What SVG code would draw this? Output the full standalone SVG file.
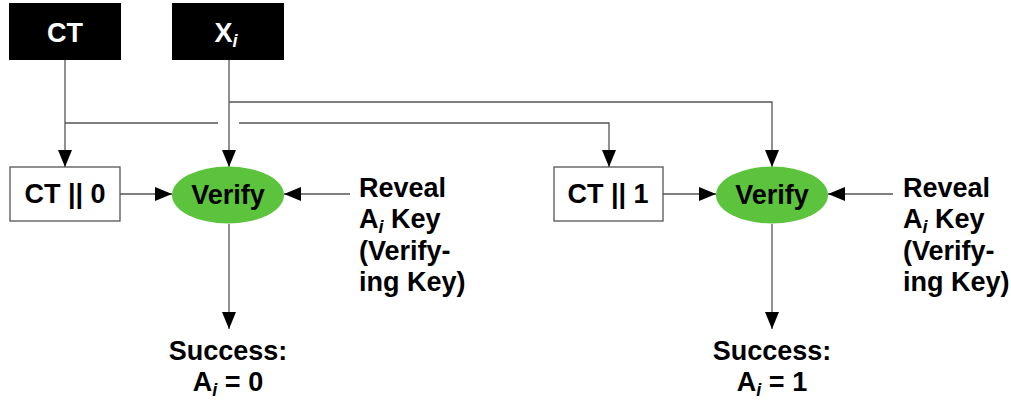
<svg xmlns="http://www.w3.org/2000/svg" width="1011" height="400" viewBox="0 0 1011 400">
<defs>
<marker id="arr" markerUnits="userSpaceOnUse" markerWidth="18" markerHeight="14" refX="17" refY="7" orient="auto">
<path d="M0,0 L17,7 L0,14 Z" fill="#000"/>
</marker>
<style>
.t{font-family:"Liberation Sans",Arial,sans-serif;font-weight:bold;font-size:27px;fill:#000}
.w{fill:#fff}
.c{stroke:#555;stroke-width:1.3;fill:none}
.a{marker-end:url(#arr)}
.blk{fill:#000}
.box{fill:#fff;stroke:#555;stroke-width:1.3}
.ell{fill:#5cc43c}
.sub{font-style:italic;font-size:18px}
</style>
</defs>
<rect width="1011" height="400" fill="#fff"/>
<g id="connectors">
<path class="c a" d="M65,60 V167"/>
<path class="c" d="M65,123 H218"/>
<path class="c a" d="M239,123 H609 V167"/>
<path class="c a" d="M229,60 V167"/>
<path class="c a" d="M229,102 H772 V167"/>
<path class="c a" d="M120,194 H172"/>
<path class="c a" d="M350,194 H284"/>
<path class="c a" d="M229,224 V329"/>
<path class="c a" d="M663,194 H716"/>
<path class="c a" d="M893,194 H828"/>
<path class="c a" d="M772,224 V329"/>
</g>
<g id="ct">
<rect class="blk" x="9" y="3" width="112" height="57"/>
<text class="t w" x="65" y="42" text-anchor="middle" font-size="24">CT</text>
</g>
<g id="xi">
<rect class="blk" x="172" y="3" width="112" height="57"/>
<text class="t w" x="226" y="42" text-anchor="middle" font-size="25">X<tspan class="sub" dy="5">i</tspan></text>
</g>
<g id="ct0">
<rect class="box" x="10" y="167" width="110" height="54"/>
<text class="t" x="65" y="203" text-anchor="middle" font-size="26">CT || 0</text>
</g>
<g id="verify0">
<ellipse class="ell" cx="228" cy="195" rx="56" ry="28.5"/>
<text class="t" x="228" y="204" text-anchor="middle" font-size="28">Verify</text>
</g>
<g id="reveal0">
<text class="t" x="359" y="197">Reveal</text>
<text class="t" x="359" y="228">A<tspan class="sub" dy="5">i</tspan><tspan dy="-5"> Key</tspan></text>
<text class="t" x="359" y="260">(Verify-</text>
<text class="t" x="359" y="291">ing Key)</text>
</g>
<g id="success0">
<text class="t" x="228" y="360" text-anchor="middle">Success:</text>
<text class="t" x="228" y="391" text-anchor="middle">A<tspan class="sub" dy="5">i</tspan><tspan dy="-5"> = 0</tspan></text>
</g>
<g id="ct1">
<rect class="box" x="554" y="167" width="109" height="54"/>
<text class="t" x="608" y="203" text-anchor="middle" font-size="26">CT || 1</text>
</g>
<g id="verify1">
<ellipse class="ell" cx="772" cy="195" rx="56" ry="28.5"/>
<text class="t" x="772" y="204" text-anchor="middle" font-size="28">Verify</text>
</g>
<g id="reveal1">
<text class="t" x="903" y="197">Reveal</text>
<text class="t" x="903" y="228">A<tspan class="sub" dy="5">i</tspan><tspan dy="-5"> Key</tspan></text>
<text class="t" x="903" y="260">(Verify-</text>
<text class="t" x="903" y="291">ing Key)</text>
</g>
<g id="success1">
<text class="t" x="772" y="360" text-anchor="middle">Success:</text>
<text class="t" x="772" y="391" text-anchor="middle">A<tspan class="sub" dy="5">i</tspan><tspan dy="-5"> = 1</tspan></text>
</g>
</svg>
